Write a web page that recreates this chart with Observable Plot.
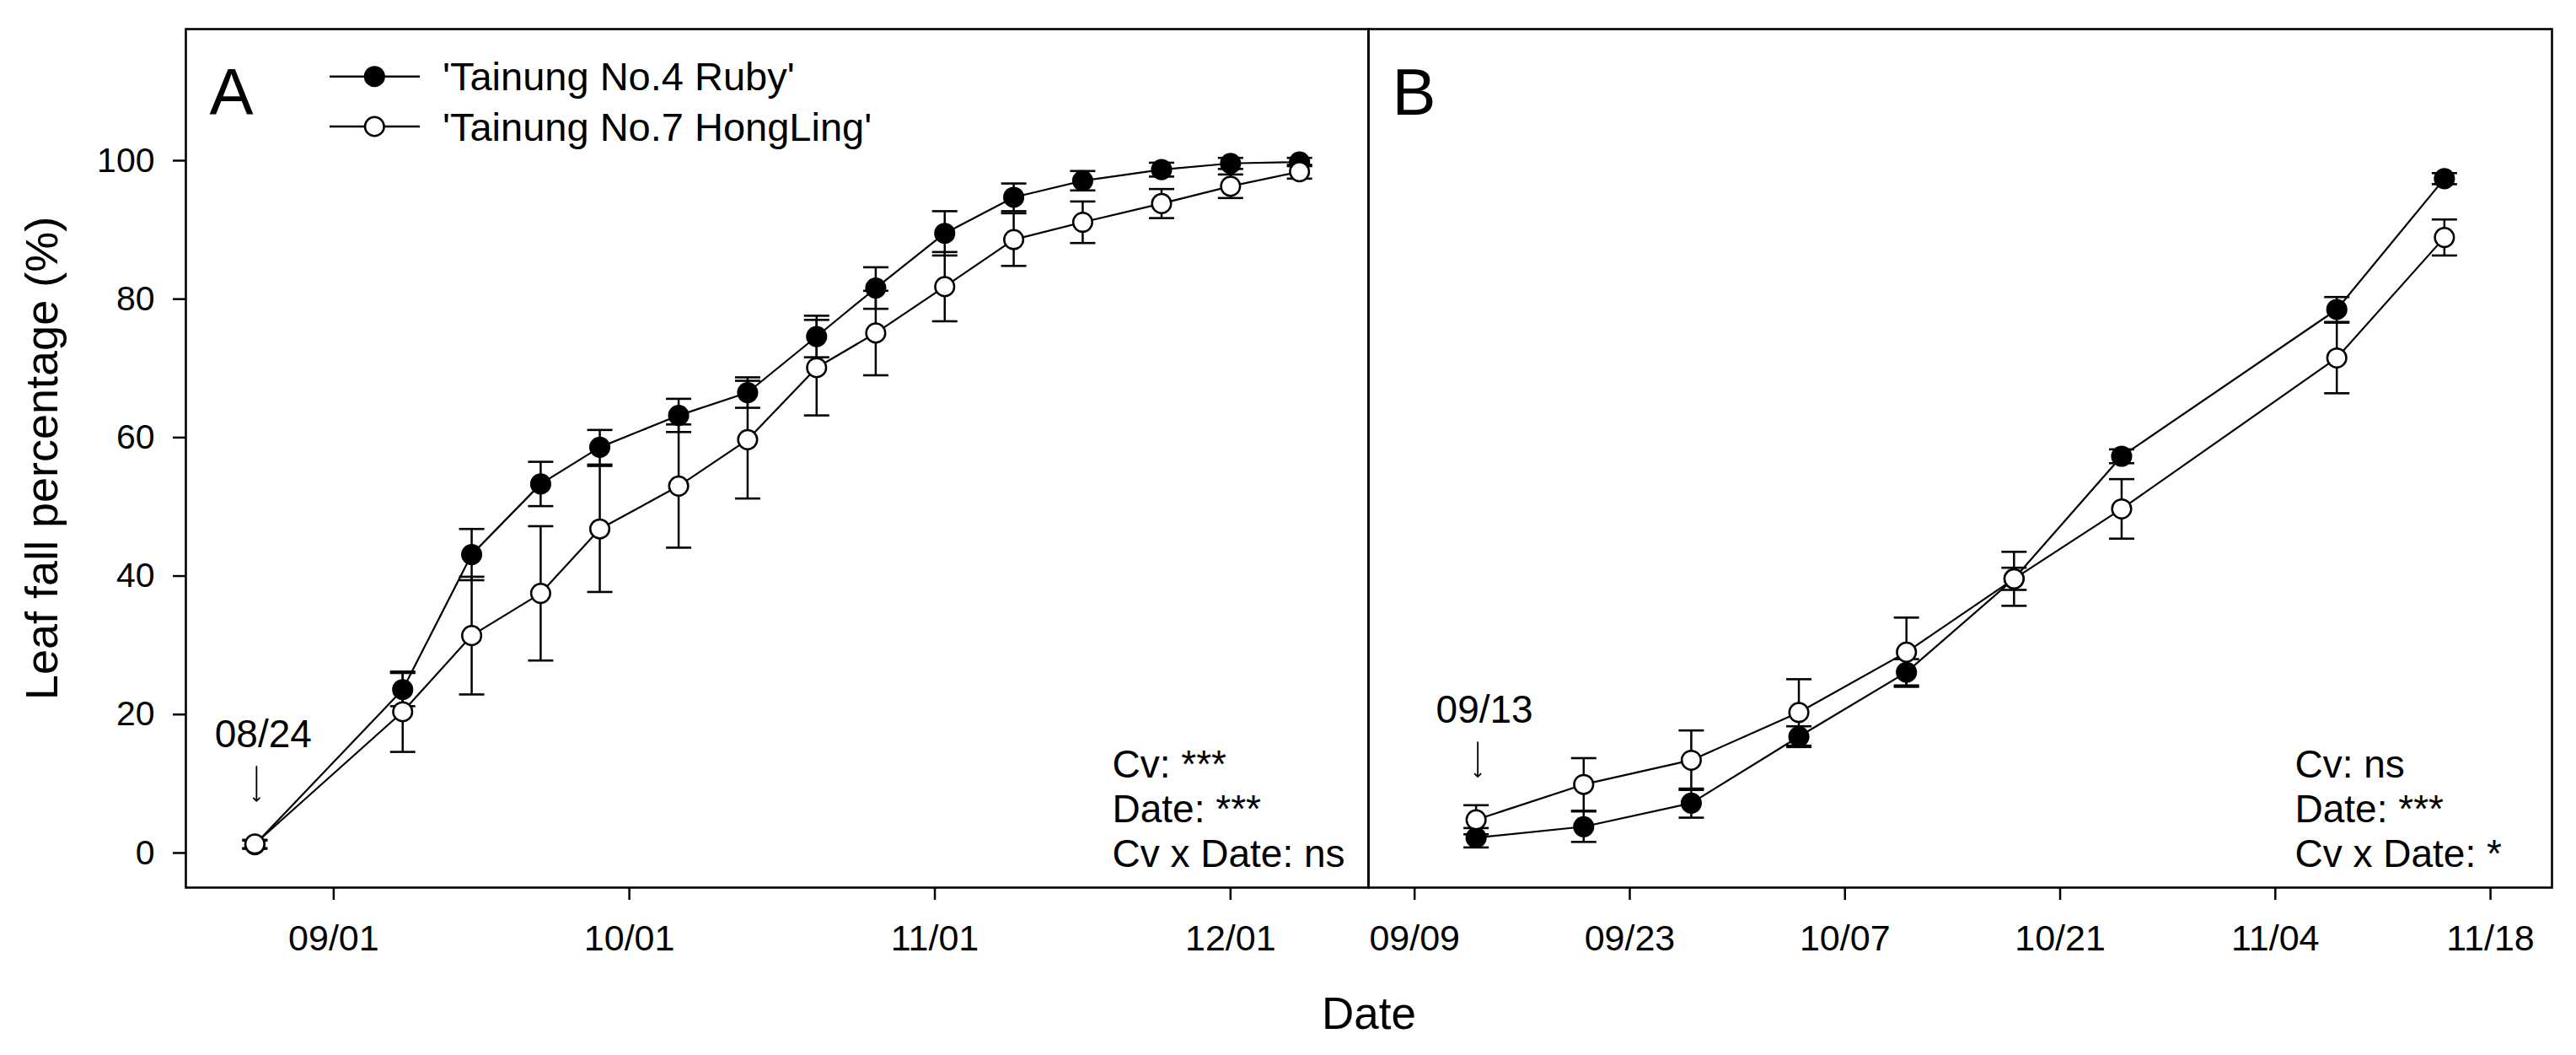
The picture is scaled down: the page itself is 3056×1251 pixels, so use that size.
<!DOCTYPE html>
<html>
<head>
<meta charset="utf-8">
<script src="https://cdn.jsdelivr.net/npm/d3@7"></script>
<script src="https://cdn.jsdelivr.net/npm/@observablehq/plot@0.6"></script>
<style>
  html, body { margin: 0; padding: 0; background: white; }
  #wrap { position: relative; width: 3056px; height: 1251px; overflow: hidden; background: white; }
  #wrap svg { position: absolute; top: 0; max-width: none; }
</style>
</head>
<body>
<div id="wrap"></div>
<script>
// ---------------- data ----------------
const cultivars = ["'Tainung No.4 Ruby'", "'Tainung No.7 HongLing'"];

const datesA = ["2020-08-24","2020-09-08","2020-09-15","2020-09-22","2020-09-28","2020-10-06","2020-10-13","2020-10-20","2020-10-26","2020-11-02","2020-11-09","2020-11-16","2020-11-24","2020-12-01","2020-12-08"];
const rubyA    = [1.2, 23.6, 43.1, 53.3, 58.6, 63.2, 66.5, 74.6, 81.6, 89.5, 94.7, 97.1, 98.7, 99.6, 99.8];
const rubyErrA = [0.6, 2.4, 3.7, 3.2, 2.5, 2.4, 2.2, 3.0, 3.0, 3.2, 2.0, 1.4, 1.0, 0.8, 0.6];
const hongA    = [1.3, 20.4, 31.4, 37.5, 46.8, 53.0, 59.7, 70.1, 75.1, 81.8, 88.6, 91.1, 93.8, 96.3, 98.4];
const hongErrA = [0.6, 5.8, 8.5, 9.7, 9.1, 8.9, 8.5, 6.9, 6.1, 5.0, 3.8, 3.0, 2.1, 1.7, 1.0];

const datesB = ["2020-09-13","2020-09-20","2020-09-27","2020-10-04","2020-10-11","2020-10-18","2020-10-25","2020-11-08","2020-11-15"];
const rubyB    = [2.2, 3.8, 7.2, 16.8, 26.1, 39.6, 57.3, 78.5, 97.4];
const rubyErrB = [1.4, 2.2, 2.1, 1.5, 1.9, 1.6, 1.0, 1.8, 0.8];
const hongB    = [4.8, 9.9, 13.4, 20.3, 29.0, 39.6, 49.7, 71.5, 88.9];
const hongErrB = [2.1, 3.8, 4.3, 4.8, 5.0, 3.9, 4.3, 5.1, 2.6];

const xDomainA = ["2020-08-17", "2020-12-15"];
const xTicksA  = ["2020-09-01", "2020-10-01", "2020-11-01", "2020-12-01"];
const xDomainB = ["2020-09-06", "2020-11-22"];
const xTicksB  = ["2020-09-09", "2020-09-23", "2020-10-07", "2020-10-21", "2020-11-04", "2020-11-18"];

const yDomain = [-5, 119];
const yTicks  = [0, 20, 40, 60, 80, 100];

const statsA = ["Cv: ***", "Date: ***", "Cv x Date: ns"];
const statsB = ["Cv: ns", "Date: ***", "Cv x Date: *"];

const yTitle = "Leaf fall percentage (%)";
const xTitle = "Date";

// ---------------- helpers ----------------
const FONT = "'Liberation Sans', Arial, Helvetica, sans-serif";
const parse = d3.utcParse("%Y-%m-%d");
const fmt = d3.utcFormat("%m/%d");
const fills = ["black", "white"];

const cap = { draw(context, size) { const w = Math.sqrt(size / Math.PI); context.moveTo(-w, 0); context.lineTo(w, 0); } };

function makeRows(dates, vals, errs, cv) {
  return dates.map((d, i) => ({ date: parse(d), value: vals[i], err: errs[i], cv }));
}

function panel({ width, marginLeft, marginRight, xDomain, xTicks, series, letter, stats, showY }) {
  const marks = [];
  series.forEach((rows, k) => {
    marks.push(Plot.ruleX(rows, { x: "date", y1: d => d.value - d.err, y2: d => d.value + d.err, stroke: "black", strokeWidth: 2.5 }));
    marks.push(Plot.dot(rows, { x: "date", y: d => d.value + d.err, symbol: cap, r: 15, stroke: "black", strokeWidth: 2.6, fill: "none" }));
    marks.push(Plot.dot(rows, { x: "date", y: d => d.value - d.err, symbol: cap, r: 15, stroke: "black", strokeWidth: 2.6, fill: "none" }));
    marks.push(Plot.line(rows, { x: "date", y: "value", stroke: "black", strokeWidth: 2.2 }));
    marks.push(Plot.dot(rows, { x: "date", y: "value", r: 11.3, fill: fills[k], stroke: "black", strokeWidth: 2.5 }));
  });
  // first-date annotation
  const first = [{ date: series[0][0].date, value: Math.max(series[0][0].value, series[1][0].value) }];
  marks.push(Plot.text(first, { x: "date", y: "value", text: d => fmt(d.date), dx: 10, dy: -115, lineAnchor: "bottom", fontSize: 46 }));
  marks.push(Plot.vector(first, { x: "date", y: "value", length: 41, rotate: 180, anchor: "start", shape: "arrow", r: 1.5, dx: 2, dy: -92, stroke: "black", strokeWidth: 1.8 }));
  // panel letter
  marks.push(Plot.text([letter], { text: d => d, frameAnchor: "top-left", dx: 28, dy: 101, lineAnchor: "bottom", textAnchor: "start", fontSize: 78 }));
  // statistics
  marks.push(Plot.text([stats.join("\n")], { text: d => d, frameAnchor: "bottom-left", dx: 1099, dy: -25, lineAnchor: "bottom", textAnchor: "start", fontSize: 46, lineHeight: 1.152 }));
  // axes
  marks.push(Plot.axisX({ ticks: xTicks.map(parse), tickFormat: fmt, tickSize: 15, tickPadding: 29, fontSize: 43, label: null, strokeWidth: 2.5 }));
  if (showY) {
    marks.push(Plot.axisY({ ticks: yTicks, tickSize: 15, tickPadding: 22, fontSize: 41, label: null, strokeWidth: 2.5 }));
    marks.push(Plot.text([yTitle], { text: d => d, frameAnchor: "left", rotate: -90, dx: -153, lineAnchor: "bottom", textAnchor: "middle", fontSize: 54 }));
  }
  marks.push(Plot.frame({ stroke: "black", strokeWidth: 2.6 }));
  return Plot.plot({
    width, height: 1251,
    marginTop: 34, marginBottom: 199, marginLeft, marginRight,
    x: { type: "utc", domain: xDomain.map(parse) },
    y: { domain: yDomain, axis: showY ? undefined : null },
    style: { fontFamily: FONT, background: "transparent", overflow: "visible", color: "black" },
    marks
  });
}

const wrap = document.getElementById("wrap");

const svgA = panel({
  width: 1626, marginLeft: 220, marginRight: 3,
  xDomain: xDomainA, xTicks: xTicksA,
  series: [makeRows(datesA, rubyA, rubyErrA, cultivars[0]), makeRows(datesA, hongA, hongErrA, cultivars[1])],
  letter: "A", stats: statsA, showY: true
});
svgA.style.left = "0px";
wrap.appendChild(svgA);

const svgB = panel({
  width: 1436, marginLeft: 3, marginRight: 29,
  xDomain: xDomainB, xTicks: xTicksB,
  series: [makeRows(datesB, rubyB, rubyErrB, cultivars[0]), makeRows(datesB, hongB, hongErrB, cultivars[1])],
  letter: "B", stats: statsB, showY: false
});
svgB.style.left = "1620px";
wrap.appendChild(svgB);

// overlay: legend and shared x title
const ov = d3.select(wrap).append("svg")
  .attr("width", 3056).attr("height", 1251)
  .style("left", "0px").style("pointer-events", "none")
  .style("font-family", FONT);

const legendRows = [90.7, 150];
cultivars.forEach((name, k) => {
  const y = legendRows[k];
  ov.append("line").attr("x1", 391).attr("x2", 498).attr("y1", y).attr("y2", y)
    .attr("stroke", "black").attr("stroke-width", 2.5);
  ov.append("circle").attr("cx", 444.3).attr("cy", y).attr("r", 11.3)
    .attr("fill", fills[k]).attr("stroke", "black").attr("stroke-width", 2.5);
  ov.append("text").attr("x", 525).attr("y", y + 16.5).attr("font-size", 47).attr("fill", "black").text(name);
});

ov.append("text").attr("x", 1624).attr("y", 1220).attr("text-anchor", "middle")
  .attr("font-size", 53).attr("fill", "black").text(xTitle);
</script>
</body>
</html>
